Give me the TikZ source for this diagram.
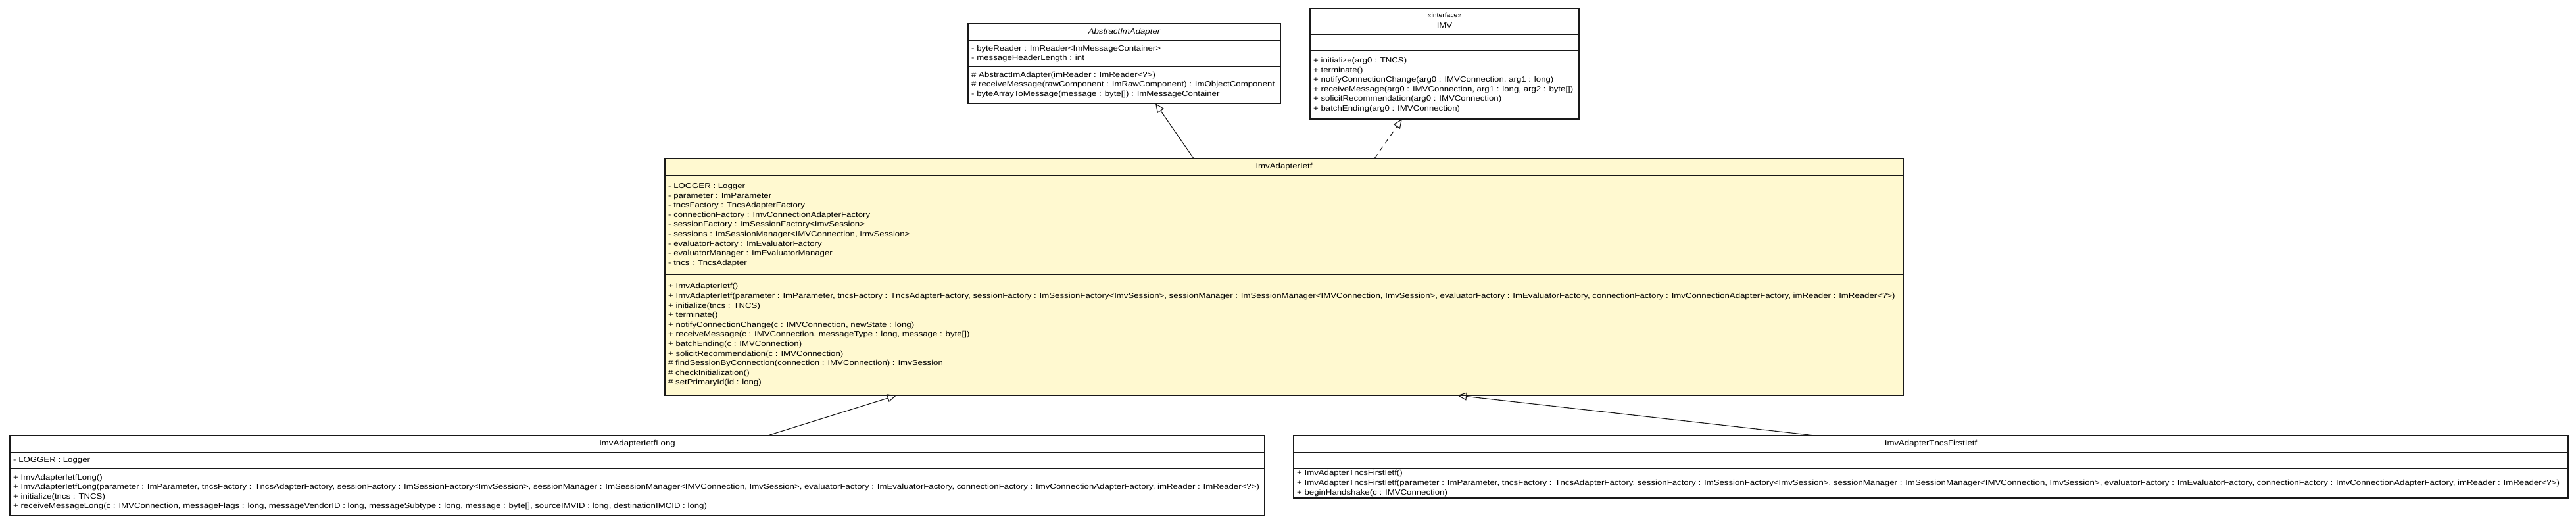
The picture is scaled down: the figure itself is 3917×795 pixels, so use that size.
\documentclass[tikz,border=0pt]{standalone}
\usepackage{fontspec}
\setmainfont{Liberation Sans}
\newfontfamily\umlfamily[FakeStretch=1.16]{Liberation Sans}
\newcommand\umlf{\umlfamily\fontsize{11.4}{14.6}\selectfont}
\newcommand\umlsmall{\umlfamily\fontsize{9}{11}\selectfont}
\usetikzlibrary{arrows.meta,calc}
\definecolor{ietfyellow}{RGB}{255,249,208}
\definecolor{umlline}{RGB}{25,25,25}
\tikzset{
  cls/.style={draw=umlline, line width=1.4pt, fill=white, anchor=north west, inner sep=0pt, outer sep=0pt},
  sec/.style={anchor=west, align=left, inner sep=0pt, font=\umlf},
  ttl/.style={anchor=center, inner sep=0pt, font=\umlf},
  divline/.style={draw=umlline, line width=1.4pt},
  inh/.style={draw=umlline, line width=1.1pt, -{Triangle[open, length=14pt, width=12pt]}},
  realiz/.style={inh, dash pattern=on 8pt off 6pt},
}
\begin{document}
\begin{tikzpicture}[x=1pt,y=-1pt]
\useasboundingbox (0,0) rectangle (3917,795);

% AbstractImAdapter
\node[cls, minimum width=475pt, minimum height=121pt] (abs) at (1472,36) {};
\draw[divline] ($(abs.north west)+(0,26)$) -- ($(abs.north east)+(0,26)$);
\draw[divline] ($(abs.north west)+(0,65)$) -- ($(abs.north east)+(0,65)$);
\node[ttl, font=\umlf\itshape] (absT) at ($(abs.north)+(0,13)$) {AbstractImAdapter};
\node[sec] (absA) at ($(abs.north west)+(5,45.5)$) {- byteReader : ImReader<ImMessageContainer>\\- messageHeaderLength : int};
\node[sec] (absM) at ($(abs.north west)+(5,93)$) {\# AbstractImAdapter(imReader : ImReader<?>)\\\# receiveMessage(rawComponent : ImRawComponent) : ImObjectComponent\\- byteArrayToMessage(message : byte[]) : ImMessageContainer};

% IMV
\node[cls, minimum width=409pt, minimum height=168pt] (imv) at (1992,13) {};
\draw[divline] ($(imv.north west)+(0,39)$) -- ($(imv.north east)+(0,39)$);
\draw[divline] ($(imv.north west)+(0,64)$) -- ($(imv.north east)+(0,64)$);
\node[ttl, font=\umlsmall] (imvS) at ($(imv.north)+(0,10)$) {«interface»};
\node[ttl] (imvT) at ($(imv.north)+(0,26)$) {IMV};
\node[sec] (imvM) at ($(imv.north west)+(5,116)$) {+ initialize(arg0 : TNCS)\\+ terminate()\\+ notifyConnectionChange(arg0 : IMVConnection, arg1 : long)\\+ receiveMessage(arg0 : IMVConnection, arg1 : long, arg2 : byte[])\\+ solicitRecommendation(arg0 : IMVConnection)\\+ batchEnding(arg0 : IMVConnection)};

% ImvAdapterIetf
\node[cls, fill=ietfyellow, line width=1.7pt, minimum width=1883pt, minimum height=360pt] (main) at (1011,241) {};
\draw[divline, line width=1.7pt] ($(main.north west)+(0,26)$) -- ($(main.north east)+(0,26)$);
\draw[divline, line width=1.7pt] ($(main.north west)+(0,176)$) -- ($(main.north east)+(0,176)$);
\node[ttl] (mainT) at ($(main.north)+(0,13)$) {ImvAdapterIetf};
\node[sec] (mainA) at ($(main.north west)+(5,101)$) {- LOGGER : Logger\\- parameter : ImParameter\\- tncsFactory : TncsAdapterFactory\\- connectionFactory : ImvConnectionAdapterFactory\\- sessionFactory : ImSessionFactory<ImvSession>\\- sessions : ImSessionManager<IMVConnection, ImvSession>\\- evaluatorFactory : ImEvaluatorFactory\\- evaluatorManager : ImEvaluatorManager\\- tncs : TncsAdapter};
\node[sec] (mainM) at ($(main.north west)+(5,268)$) {+ ImvAdapterIetf()\\+ ImvAdapterIetf(parameter : ImParameter, tncsFactory : TncsAdapterFactory, sessionFactory : ImSessionFactory<ImvSession>, sessionManager : ImSessionManager<IMVConnection, ImvSession>, evaluatorFactory : ImEvaluatorFactory, connectionFactory : ImvConnectionAdapterFactory, imReader : ImReader<?>)\\+ initialize(tncs : TNCS)\\+ terminate()\\+ notifyConnectionChange(c : IMVConnection, newState : long)\\+ receiveMessage(c : IMVConnection, messageType : long, message : byte[])\\+ batchEnding(c : IMVConnection)\\+ solicitRecommendation(c : IMVConnection)\\\# findSessionByConnection(connection : IMVConnection) : ImvSession\\\# checkInitialization()\\\# setPrimaryId(id : long)};

% ImvAdapterIetfLong
\node[cls, minimum width=1908pt, minimum height=122pt] (long) at (15,662) {};
\draw[divline] ($(long.north west)+(0,26)$) -- ($(long.north east)+(0,26)$);
\draw[divline] ($(long.north west)+(0,50)$) -- ($(long.north east)+(0,50)$);
\node[ttl] (longT) at ($(long.north)+(0,13)$) {ImvAdapterIetfLong};
\node[sec] (longA) at ($(long.north west)+(5,38)$) {- LOGGER : Logger};
\node[sec] (longM) at ($(long.north west)+(5,86)$) {+ ImvAdapterIetfLong()\\+ ImvAdapterIetfLong(parameter : ImParameter, tncsFactory : TncsAdapterFactory, sessionFactory : ImSessionFactory<ImvSession>, sessionManager : ImSessionManager<IMVConnection, ImvSession>, evaluatorFactory : ImEvaluatorFactory, connectionFactory : ImvConnectionAdapterFactory, imReader : ImReader<?>)\\+ initialize(tncs : TNCS)\\+ receiveMessageLong(c : IMVConnection, messageFlags : long, messageVendorID : long, messageSubtype : long, message : byte[], sourceIMVID : long, destinationIMCID : long)};

% ImvAdapterTncsFirstIetf
\node[cls, minimum width=1938pt, minimum height=95pt] (tncs) at (1967,662) {};
\draw[divline] ($(tncs.north west)+(0,26)$) -- ($(tncs.north east)+(0,26)$);
\draw[divline] ($(tncs.north west)+(0,50)$) -- ($(tncs.north east)+(0,50)$);
\node[ttl] (tncsT) at ($(tncs.north)+(0,13)$) {ImvAdapterTncsFirstIetf};
\node[sec] (tncsM) at ($(tncs.north west)+(5,72.5)$) {+ ImvAdapterTncsFirstIetf()\\+ ImvAdapterTncsFirstIetf(parameter : ImParameter, tncsFactory : TncsAdapterFactory, sessionFactory : ImSessionFactory<ImvSession>, sessionManager : ImSessionManager<IMVConnection, ImvSession>, evaluatorFactory : ImEvaluatorFactory, connectionFactory : ImvConnectionAdapterFactory, imReader : ImReader<?>)\\+ beginHandshake(c : IMVConnection)};

% connectors
\draw[inh] ($(main.north west)!0.427!(main.north east)$) -- ($(abs.south west)!0.600!(abs.south east)$);
\draw[realiz] ($(main.north west)!0.573!(main.north east)$) -- ($(imv.south west)!0.342!(imv.south east)$);
\draw[inh] ($(long.north west)!0.604!(long.north east)$) -- ($(main.south west)!0.187!(main.south east)$);
\draw[inh] ($(tncs.north west)!0.409!(tncs.north east)$) -- ($(main.south west)!0.640!(main.south east)$);
\end{tikzpicture}
\end{document}
